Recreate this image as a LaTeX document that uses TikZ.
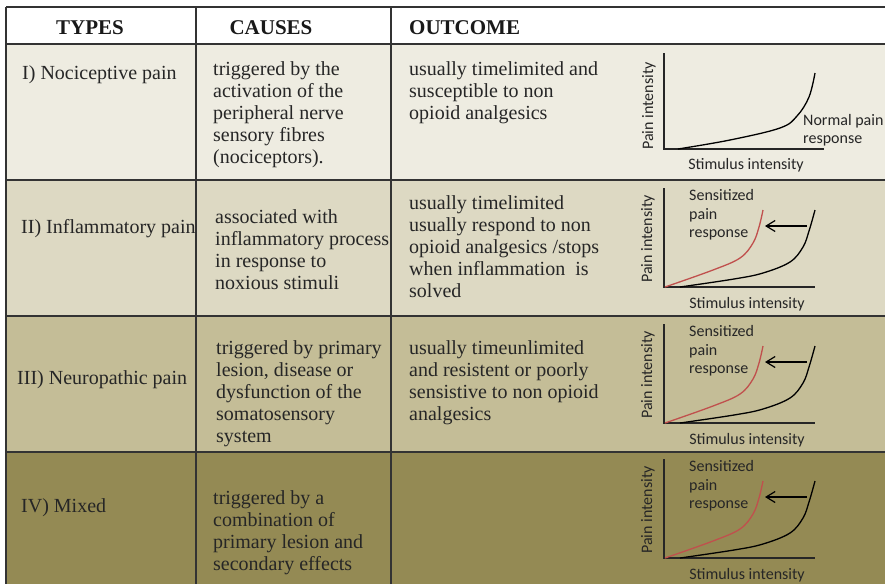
\documentclass[tikz,border=0pt]{standalone}
\usepackage{fontspec}
\setmainfont{Liberation Serif}
\newfontfamily\grfont{Carlito}
\usetikzlibrary{arrows.meta}
\definecolor{rowa}{HTML}{EEECE1}
\definecolor{rowb}{HTML}{DDD9C3}
\definecolor{rowc}{HTML}{C4BD97}
\definecolor{rowd}{HTML}{948A54}
\definecolor{gridc}{HTML}{333333}
\definecolor{redc}{HTML}{C0504D}
\tikzset{
  gridline/.style={draw=gridc, line width=1.6pt},
  head/.style={font=\fontsize{21}{24}\selectfont\bfseries, inner sep=0pt, text=black!90},
  cell/.style={font=\fontsize{20}{22}\selectfont, align=left, anchor=north west, inner sep=0pt, text=black!85},
  typ/.style={font=\fontsize{20}{22}\selectfont, anchor=base west, inner sep=0pt, text=black!85},
  axis/.style={draw=black!85, line width=1.4pt},
  curve/.style={draw=black, line width=1.3pt},
  rcurve/.style={draw=redc, line width=1.3pt},
  glab/.style={font=\grfont\fontsize{16}{19}\selectfont, inner sep=0pt, text=black!85},
  sarrow/.style={draw=black, line width=1.2pt, -{Straight Barb[length=9pt,width=11pt]}}
}
\newcommand{\sensgraph}[2]{%
  \begin{scope}[shift={(664,#1)}]
    \draw[axis] (0,-99) -- (0,0) -- (151,0);
    \node[glab, rotate=90] (py#2) at (-16,-48) {Pain intensity};
    \node[glab, anchor=base] (sx#2) at (83,21) {Stimulus intensity};
    \node[glab, anchor=base west] (s1#2) at (25,-87) {Sensitized};
    \node[glab, anchor=base west] (s2#2) at (25,-68) {pain};
    \node[glab, anchor=base west] (s3#2) at (25,-50) {response};
    \draw[rcurve] plot[smooth, tension=0.6] coordinates {(1,0) (49,-17) (76,-29) (89,-44) (95,-60) (99,-77)};
    \draw[curve] plot[smooth, tension=0.6] coordinates {(16,0) (70,-8) (99,-14) (126,-25) (139,-40) (145,-56) (151,-77)};
    \coordinate (as#2) at (143,-61);
    \coordinate (ae#2) at (101,-61);
    \draw[sarrow] (as#2) -- (ae#2);
  \end{scope}}
\begin{document}
\begin{tikzpicture}[x=1pt,y=-1pt]
\useasboundingbox (0,0) rectangle (885,584);
\fill[white] (0,0) rectangle (885,584);
\fill[rowa] (6,44) rectangle (885,180);
\fill[rowb] (6,180) rectangle (885,316);
\fill[rowc] (6,316) rectangle (885,452);
\fill[rowd] (6,452) rectangle (885,584);
% grid
\draw[gridline] (6,7) -- (885,7);
\draw[gridline] (6,44) -- (885,44);
\draw[gridline] (6,180) -- (885,180);
\draw[gridline] (6,316) -- (885,316);
\draw[gridline] (6,452) -- (885,452);
\draw[gridline] (6,7) -- (6,584);
\draw[gridline] (196,7) -- (196,584);
\draw[gridline] (391,7) -- (391,584);
% header
\node[head, anchor=base] (hT) at (90,34) {TYPES};
\node[head, anchor=base] (hC) at (271,34) {CAUSES};
\node[head, anchor=base west] (hO) at (409,34) {OUTCOME};
% types
\node[typ] (t1) at (22,79) {I) Nociceptive pain};
\node[typ] (t2) at (21,233) {II) Inflammatory pain};
\node[typ] (t3) at (17,384) {III) Neuropathic pain};
\node[typ] (t4) at (21,512) {IV) Mixed};
% causes
\node[cell] (c1) at (213,61.3) {triggered by the\\activation of the\\peripheral nerve\\sensory fibres\\(nociceptors).};
\node[cell] (c2) at (215,209.3) {associated with\\inflammatory process\\in response to\\noxious stimuli};
\node[cell] (c3) at (216,340.3) {triggered by primary\\lesion, disease or\\dysfunction of the\\somatosensory\\system};
\node[cell] (c4) at (213,490.3) {triggered by a\\combination of\\primary lesion and\\secondary effects};
% outcome
\node[cell] (o1) at (409,61.3) {usually timelimited and\\susceptible to non\\opioid analgesics};
\node[cell] (o2) at (409,195.3) {usually timelimited\\usually respond to non\\opioid analgesics /stops\\when inflammation~ is\\solved};
\node[cell] (o3) at (409,340.3) {usually timeunlimited\\and resistent or poorly\\sensistive to non opioid\\analgesics};
% graph row 1
\begin{scope}[shift={(664,149)}]
  \draw[axis] (0,-96) -- (0,0) -- (160,0);
  \node[glab, rotate=90] (py1) at (-15,-43) {Pain intensity};
  \node[glab, anchor=base] (sx1) at (82,20) {Stimulus intensity};
  \node[glab, anchor=base west] (n1) at (139,-24) {Normal pain};
  \node[glab, anchor=base west] (n2) at (139,-6) {response};
  \draw[curve] plot[smooth, tension=0.6] coordinates {(14,0) (66,-9) (116,-21) (133,-33) (145,-52) (151,-76)};
\end{scope}
\sensgraph{287}{2}
\sensgraph{423}{3}
\sensgraph{558}{4}
\end{tikzpicture}
\end{document}
